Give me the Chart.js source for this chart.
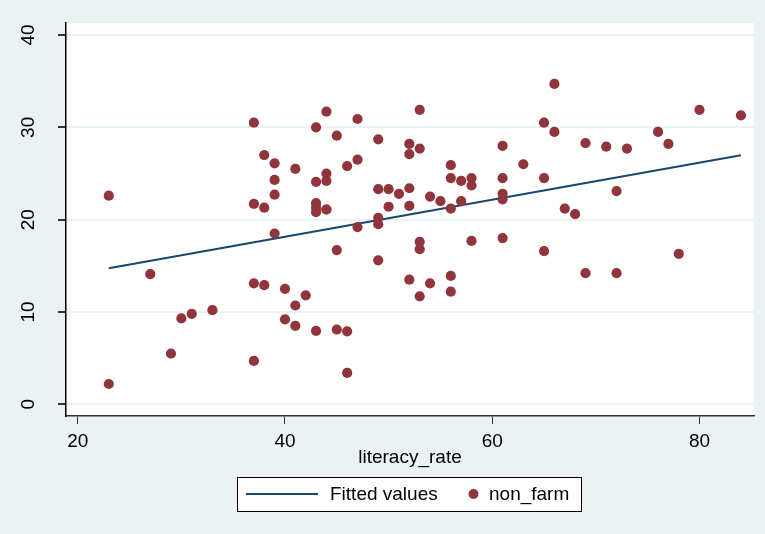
<!DOCTYPE html>
<html>
<head>
<meta charset="utf-8">
<script src="https://cdn.jsdelivr.net/npm/chart.js@4.4.0/dist/chart.umd.min.js"></script>
<style>
  html, body { margin: 0; padding: 0; background: #eaf2f3; }
  canvas { display: block; }
</style>
</head>
<body>
<canvas id="chart" width="765" height="534"></canvas>
<script>
// literacy_rate (x) and non_farm (y)
const literacyRate = [
  23, 23, 27, 29, 30, 31, 33,
  37, 37, 37, 37, 38, 38, 38,
  39, 39, 39, 39, 40, 40, 41, 41, 41, 42,
  43, 43, 43, 43, 43, 43, 44, 44, 44, 44, 44,
  45, 45, 45, 46, 46, 46, 47, 47, 47,
  49, 49, 49, 49, 49, 50, 50, 51,
  52, 52, 52, 52, 52, 53, 53, 53, 53, 53,
  54, 54, 55, 56, 56, 56, 56, 56, 57, 57, 58, 58, 58,
  61, 61, 61, 61, 61, 63, 65, 65, 65, 66, 66, 67, 68,
  69, 69, 71, 72, 72, 73, 76, 77, 78, 80, 84
];
const nonFarm = [
  22.6, 2.2, 14.1, 5.5, 9.3, 9.8, 10.2,
  30.5, 21.7, 13.1, 4.7, 27.0, 21.3, 12.9,
  26.1, 24.3, 22.7, 18.5, 12.5, 9.2, 25.5, 10.7, 8.5, 11.8,
  30.0, 24.1, 21.8, 21.3, 20.8, 7.95, 31.7, 25.0, 24.2, 21.1, 21.1,
  29.1, 16.7, 8.1, 25.8, 7.9, 3.4, 30.9, 26.5, 19.2,
  28.7, 23.3, 20.2, 19.5, 15.6, 23.3, 21.4, 22.8,
  28.2, 27.1, 23.4, 21.5, 13.5, 31.9, 27.7, 17.6, 16.8, 11.7,
  22.5, 13.1, 22.0, 25.9, 24.5, 21.2, 13.9, 12.2, 24.2, 22.0, 24.5, 23.7, 17.7,
  28.0, 24.5, 22.8, 22.2, 18.0, 26.0, 30.5, 24.5, 16.6, 34.7, 29.5, 21.2, 20.6,
  28.3, 14.2, 27.9, 23.1, 14.2, 27.7, 29.5, 28.2, 16.3, 31.9, 31.3
];
// Fitted values (end points of the fit line)
const fittedX = [23, 84];
const fittedY = [14.73, 26.97];

const xTicks = [20, 40, 60, 80];
const yTicks = [0, 10, 20, 30, 40];

const MAROON = "#90353b";
const NAVY = "#1a476f";
const BG = "#eaf2f3";
const FONT = "'Liberation Sans', Arial, sans-serif";

const scatterPts = literacyRate.map((x, i) => ({ x: x, y: nonFarm[i] }));
const fitPts = fittedX.map((x, i) => ({ x: x, y: fittedY[i] }));

const stataLook = {
  id: "stataLook",
  beforeDraw(chart) {
    const { ctx, chartArea } = chart;
    ctx.save();
    ctx.fillStyle = BG;
    ctx.fillRect(0, 0, chart.width, chart.height);
    ctx.fillStyle = "#ffffff";
    ctx.fillRect(chartArea.left, chartArea.top,
      chartArea.right - chartArea.left, chartArea.bottom - chartArea.top);
    ctx.restore();
  },
  afterDraw(chart) {
    const ctx = chart.ctx;
    const ys = chart.scales.y;
    ctx.save();
    // rotated y tick labels
    ctx.fillStyle = "#000";
    ctx.font = "19px " + FONT;
    ctx.textAlign = "center";
    ctx.textBaseline = "middle";
    yTicks.forEach(v => {
      ctx.save();
      ctx.translate(28.5, ys.getPixelForValue(v));
      ctx.rotate(-Math.PI / 2);
      ctx.fillText(String(v), 0, 0);
      ctx.restore();
    });

    // legend box
    ctx.fillStyle = "#ffffff";
    ctx.fillRect(237, 477, 344, 34);
    ctx.strokeStyle = "#000";
    ctx.lineWidth = 1;
    ctx.strokeRect(237.5, 477.5, 344, 34);
    ctx.strokeStyle = NAVY;
    ctx.lineWidth = 2;
    ctx.beginPath();
    ctx.moveTo(246, 494);
    ctx.lineTo(318, 494);
    ctx.stroke();
    ctx.fillStyle = MAROON;
    ctx.beginPath();
    ctx.arc(473.5, 494, 5, 0, Math.PI * 2);
    ctx.fill();
    ctx.fillStyle = "#000";
    ctx.textAlign = "left";
    ctx.fillText("Fitted values", 330, 495);
    ctx.fillText("non_farm", 489, 495);
    ctx.restore();
  }
};

new Chart(document.getElementById("chart"), {
  type: "scatter",
  data: {
    datasets: [
      {
        label: "non_farm",
        data: scatterPts,
        backgroundColor: MAROON,
        borderColor: MAROON,
        borderWidth: 0,
        pointRadius: 5.1,
        order: 0
      },
      {
        label: "Fitted values",
        data: fitPts,
        showLine: true,
        borderColor: NAVY,
        borderWidth: 2,
        pointRadius: 0,
        fill: false,
        order: 1
      }
    ]
  },
  options: {
    responsive: false,
    animation: false,
    layout: { padding: { left: 0, right: 11, top: 23, bottom: 0 } },
    plugins: {
      legend: { display: false },
      tooltip: { enabled: false }
    },
    scales: {
      x: {
        type: "linear",
        min: 18.87,
        max: 85.26,
        afterBuildTicks: s => { s.ticks = xTicks.map(v => ({ value: v })); },
        afterFit: s => { s.height = 118; },
        grid: {
          drawOnChartArea: false,
          drawTicks: true,
          tickLength: 8,
          tickColor: "#333",
          lineWidth: 1
        },
        border: { display: true, color: "#333", width: 1.5 },
        ticks: {
          color: "#000",
          font: { family: FONT, size: 19 },
          padding: 6,
          maxRotation: 0,
          callback: v => String(v)
        },
        title: {
          display: true,
          text: "literacy_rate",
          color: "#000",
          font: { family: FONT, size: 19 },
          padding: { top: 4, bottom: 65 }
        }
      },
      y: {
        type: "linear",
        min: -1.267,
        max: 41.3,
        afterBuildTicks: s => { s.ticks = yTicks.map(v => ({ value: v })); },
        afterFit: s => { s.width = 66; },
        grid: {
          color: BG,
          lineWidth: 2,
          drawTicks: true,
          tickLength: 8,
          tickColor: "#333"
        },
        border: { display: true, color: "#000", width: 1.5 },
        ticks: { display: false }
      }
    }
  },
  plugins: [stataLook]
});
</script>
</body>
</html>
